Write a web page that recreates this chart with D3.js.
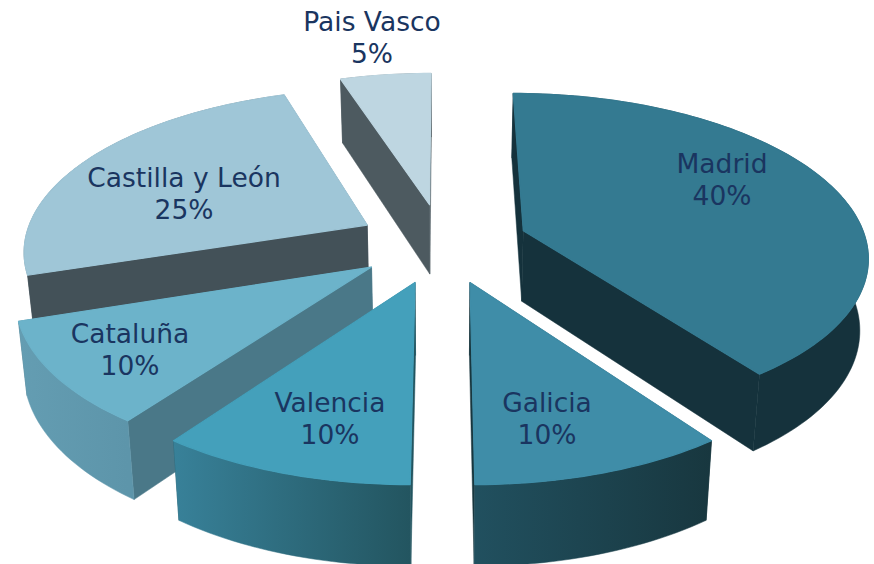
<!DOCTYPE html>
<html>
<head>
<meta charset="utf-8">
<script src="https://cdn.jsdelivr.net/npm/d3@7"></script>
<style>
	html, body { margin: 0; padding: 0; background: #fff; overflow: hidden; }
	svg { display: block; }
</style>
</head>
<body>
<script>
// datos del grafico
const categories = ["Madrid", "Galicia", "Valencia", "Cataluña", "Castilla y León", "Pais Vasco"];
const values = [40, 10, 10, 10, 25, 5];

// colores por porcion
const topColors = ["#347a91", "#3f8da8", "#44a0bb", "#6cb3ca", "#9fc6d7", "#bed6e1"];
const faceColors = ["#15323c", "#18373f", "#235560", "#4a7888", "#435158", "#4d5a60"];
const rimLeft = ["#15323c", "#21505f", "#388199", "#649db2", "#435158", "#4d5a60"];
const rimRight = ["#15323c", "#18373f", "#235560", "#5d95aa", "#435158", "#4d5a60"];

// ancla de cada etiqueta: centro y linea base de la primera fila
const labelX = [722, 547, 330, 130, 184, 372];
const labelY = [173, 412, 412, 343, 187, 31];

const width = 874;
const height = 564;

// proyeccion en perspectiva del disco
const cx = 442.5;
const cy = 243;
const radiusX = 343.5;
const radiusY = 160.4;
const perspective = 0.144;
const explode = 0.25;
const depth = 71;
const bottomShrink = 0.98;

function project(x, y, bottom) {
	const s = 1 / (1 + perspective * y);
	const px = cx + radiusX * x * s;
	const py = cy - radiusY * y * s;
	if (!bottom) return [px, py];
	return [cx + (px - cx) * bottomShrink, cy + (py - cy) * bottomShrink + depth * s];
}

const svg = d3.select("body")
	.append("svg")
	.attr("width", width)
	.attr("height", height);

const defs = svg.append("defs");
const line = d3.line();

const slices = d3.pie().sort(null).startAngle(0).endAngle(2 * Math.PI)(values)
	.map((d, i) => {
		const mid = (d.startAngle + d.endAngle) / 2;
		return {
			i: i,
			start: d.startAngle,
			end: d.endAngle,
			ox: explode * Math.sin(mid),
			oy: explode * Math.cos(mid)
		};
	})
	.sort((a, b) => (b.oy - a.oy));

slices.forEach(d => {
	// puntos sobre el borde exterior, en coordenadas del disco
	const steps = Math.ceil((d.end - d.start) * 40);
	const rim = d3.range(steps + 1).map(k => {
		const a = d.start + (d.end - d.start) * k / steps;
		return [d.ox + Math.sin(a), d.oy + Math.cos(a)];
	});
	const apex = [d.ox, d.oy];
	const first = rim[0];
	const last = rim[rim.length - 1];

	const topPts = rim.map(p => project(p[0], p[1], false));
	const bottomPts = rim.map(p => project(p[0], p[1], true));

	const g = svg.append("g").attr("class", "slice");

	const gradId = "rim" + d.i;
	const xs = topPts.map(p => p[0]);
	const grad = defs.append("linearGradient")
		.attr("id", gradId)
		.attr("gradientUnits", "userSpaceOnUse")
		.attr("x1", d3.min(xs))
		.attr("x2", d3.max(xs))
		.attr("y1", 0)
		.attr("y2", 0);
	grad.append("stop").attr("offset", 0).attr("stop-color", rimLeft[d.i]);
	grad.append("stop").attr("offset", 1).attr("stop-color", rimRight[d.i]);

	const cutFace = p => [
		project(apex[0], apex[1], false),
		project(p[0], p[1], false),
		project(p[0], p[1], true),
		project(apex[0], apex[1], true)
	];

	const midRim = rim[Math.floor(rim.length / 2)];
	const walls = [
		{ y: (apex[1] + first[1]) / 2, pts: cutFace(first), fill: faceColors[d.i] },
		{ y: (apex[1] + last[1]) / 2, pts: cutFace(last), fill: faceColors[d.i] },
		{ y: midRim[1], pts: topPts.concat(bottomPts.slice().reverse()), fill: `url(#${gradId})` }
	].sort((a, b) => b.y - a.y);

	walls.forEach(w => {
		g.append("path")
			.attr("d", line(w.pts) + "Z")
			.attr("fill", w.fill)
			.attr("stroke", w.fill)
			.attr("stroke-width", 0.5)
			.attr("stroke-linejoin", "round");
	});

	g.append("path")
		.attr("d", line([project(apex[0], apex[1], false)].concat(topPts)) + "Z")
		.attr("fill", topColors[d.i])
		.attr("stroke", topColors[d.i])
		.attr("stroke-width", 1.2)
		.attr("stroke-linejoin", "round");
});

// etiquetas
const labels = svg.append("g")
	.attr("font-family", "'DejaVu Sans', Verdana, sans-serif")
	.attr("font-size", 26.5)
	.attr("fill", "#1a3560")
	.attr("text-anchor", "middle");

categories.forEach((name, i) => {
	labels.append("text")
		.attr("x", labelX[i])
		.attr("y", labelY[i])
		.text(name);
	labels.append("text")
		.attr("x", labelX[i])
		.attr("y", labelY[i] + 32)
		.text(values[i] + "%");
});
</script>
</body>
</html>
